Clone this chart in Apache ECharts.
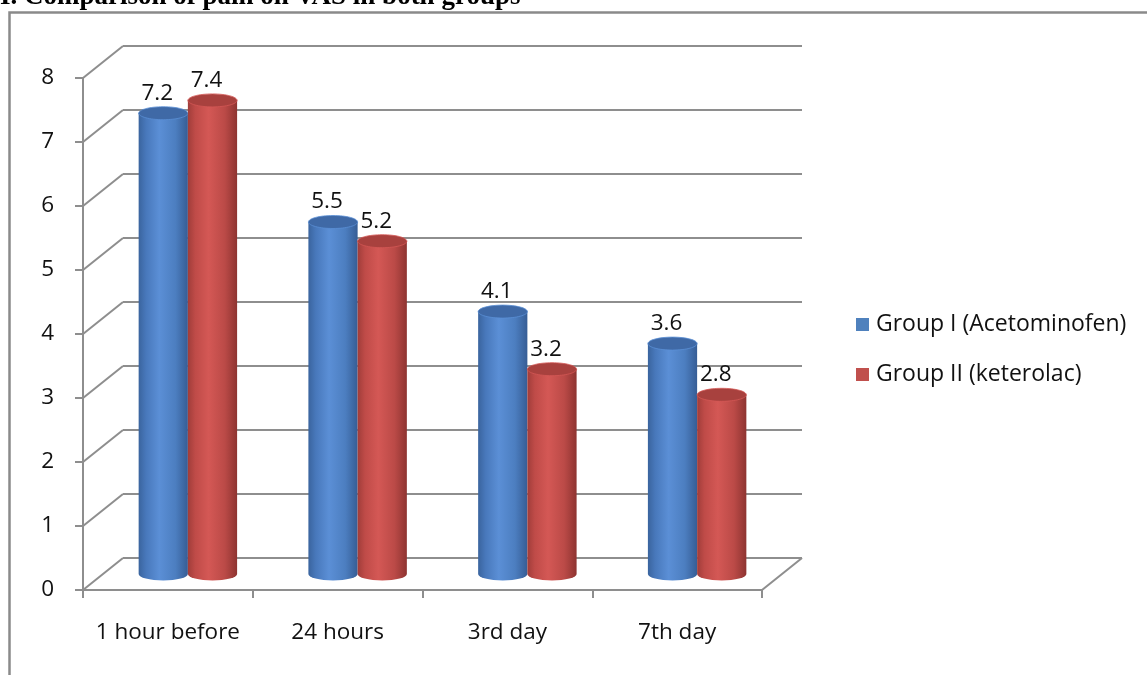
<!DOCTYPE html>
<html>
<head>
<meta charset="utf-8">
<script src="https://cdn.jsdelivr.net/npm/echarts@6/dist/echarts.min.js"></script>
<style>
  html, body { margin: 0; padding: 0; background: #fff; }
  #chart { width: 1147px; height: 675px; }
</style>
</head>
<body>
<div id="chart"></div>
<script>
// data
const categories = ['1 hour before', '24 hours', '3rd day', '7th day'];
const groupI = [7.2, 5.5, 4.1, 3.6];
const groupII = [7.4, 5.2, 3.2, 2.8];
const seriesNames = ['Group I (Acetominofen)', 'Group II (keterolac)'];
const yTicks = [0, 1, 2, 3, 4, 5, 6, 7, 8];
const titleText = 'I. Comparison of pain on VAS in both groups';

(function () {
    const chart = echarts.init(document.getElementById('chart'));

    const FONT = '"Open Sans", Lato, sans-serif';
    const FS = 22.5;
    const LINE = '#8e8e8e';
    const DX = 40, DY = 32; // depth of the 3d box (front -> back wall)

    const yMin = yTicks[0], yMax = yTicks[yTicks.length - 1], yStep = yTicks[1] - yTicks[0];

    // 3 grids: front (axes), back wall (gridlines), middle (bars)
    const grids = [
        { left: 83, right: 385, top: 78, bottom: 85 },
        { left: 83 + DX, right: 385 - DX, top: 78 - DY, bottom: 85 + DY },
        { left: 83 + DX / 2, right: 385 - DX / 2, top: 78 - DY / 2, bottom: 85 + DY / 2 }
    ].map(g => Object.assign({ outerBoundsMode: 'none' }, g));

    const xAxes = [
        {
            type: 'category', gridIndex: 0, data: categories,
            axisLine: { lineStyle: { color: LINE, width: 2 } },
            axisTick: { show: true, interval: 0, length: 8, lineStyle: { color: LINE, width: 2 } },
            axisLabel: { interval: 0, hideOverlap: false, fontFamily: FONT, fontSize: FS, color: '#111', margin: 31 }
        },
        { type: 'category', gridIndex: 1, data: categories, show: false },
        { type: 'category', gridIndex: 2, data: categories, show: false }
    ];

    const yAxes = [
        {
            type: 'value', gridIndex: 0, min: yMin, max: yMax, interval: yStep,
            axisLine: { show: true, lineStyle: { color: LINE, width: 2 } },
            axisTick: { show: true, length: 8, lineStyle: { color: LINE, width: 2 } },
            axisLabel: { fontFamily: FONT, fontSize: FS, color: '#111', margin: 29 },
            splitLine: { show: false }
        },
        {
            type: 'value', gridIndex: 1, min: yMin, max: yMax, interval: yStep,
            axisLine: { show: false }, axisTick: { show: false }, axisLabel: { show: false },
            splitLine: { show: true, lineStyle: { color: LINE, width: 2 } }
        },
        { type: 'value', gridIndex: 2, min: yMin, max: yMax, interval: yStep, show: false, splitLine: { show: false } }
    ];

    // side wall diagonals + right floor edge
    const walls = {
        type: 'custom', xAxisIndex: 1, yAxisIndex: 1, silent: true, z: 1,
        data: yTicks.map(v => [0, v]),
        renderItem(params, api) {
            const band = api.size([1, 0])[0];
            const p = api.coord([0, api.value(1)]);
            const left = p[0] - band / 2;
            const children = [{
                type: 'line',
                shape: { x1: left, y1: p[1], x2: left - DX, y2: p[1] + DY },
                style: { stroke: LINE, lineWidth: 2 }
            }];
            if (params.dataIndex === 0) {
                const q = api.coord([categories.length - 1, 0]);
                const right = q[0] + band / 2;
                children.push({
                    type: 'line',
                    shape: { x1: right, y1: q[1], x2: right - DX, y2: q[1] + DY },
                    style: { stroke: LINE, lineWidth: 2 }
                });
            }
            return { type: 'group', children };
        }
    };

    function cylinder(idx, values, stops, topColor, legendColor) {
        return {
            type: 'custom', name: seriesNames[idx], xAxisIndex: 2, yAxisIndex: 2, z: 3,
            itemStyle: { color: legendColor },
            data: values.map((v, i) => [i, v]),
            renderItem(params, api) {
                const cat = api.value(0), val = api.value(1);
                const band = api.size([1, 0])[0];
                const w = band * 0.29;
                const top = api.coord([cat, val]);
                const base = api.coord([cat, 0]);
                const x = top[0] + (idx === 0 ? -w : 0);
                const rx = w / 2, ry = 6.5;
                const grad = { type: 'linear', x: 0, y: 0, x2: 1, y2: 0, colorStops: stops };
                const body = 'M' + x + ',' + top[1] + ' L' + x + ',' + base[1] +
                    ' A' + rx + ',' + ry + ' 0 0 0 ' + (x + w) + ',' + base[1] +
                    ' L' + (x + w) + ',' + top[1] + ' Z';
                return {
                    type: 'group',
                    children: [
                        { type: 'path', shape: { pathData: body }, style: { fill: grad } },
                        { type: 'ellipse', shape: { cx: x + rx, cy: top[1], rx: rx, ry: ry },
                          style: { fill: topColor, stroke: stops[2].color, lineWidth: 0.8 } },
                        { type: 'text', x: x + rx - 6, y: top[1] - 20,
                          style: { text: String(val), font: FS + 'px ' + FONT, fill: '#111',
                                   align: 'center', verticalAlign: 'middle' } }
                    ]
                };
            }
        };
    }

    const blueStops = [
        { offset: 0, color: '#3a649e' }, { offset: 0.15, color: '#4878bb' },
        { offset: 0.42, color: '#5b8fd6' }, { offset: 0.75, color: '#4c7ec0' },
        { offset: 1, color: '#365d95' }
    ];
    const redStops = [
        { offset: 0, color: '#a03d3a' }, { offset: 0.15, color: '#bf4b48' },
        { offset: 0.42, color: '#d45855' }, { offset: 0.75, color: '#bb4a47' },
        { offset: 1, color: '#8e3431' }
    ];

    const option = {
        animation: false,
        backgroundColor: '#fff',
        grid: grids,
        xAxis: xAxes,
        yAxis: yAxes,
        legend: {
            orient: 'vertical', left: 851, top: 308,
            itemWidth: 13, itemHeight: 13, itemGap: 27, icon: 'rect',
            textStyle: { fontFamily: FONT, fontSize: 23, color: '#111', padding: [0, 0, 0, 2] },
            data: seriesNames
        },
        graphic: [
            { type: 'rect', left: 7, top: 10, z: -1, silent: true,
              shape: { width: 1200, height: 700 },
              style: { fill: null, stroke: '#8a8a8a', lineWidth: 2.5 } },
            { type: 'text', x: 0, y: 11, silent: true,
              style: { text: titleText, font: 'bold 27px "Liberation Serif", serif', fill: '#000',
                       verticalAlign: 'bottom' } }
        ],
        series: [
            walls,
            cylinder(0, groupI, blueStops, '#3f69a6', '#4f81bd'),
            cylinder(1, groupII, redStops, '#a8413e', '#c0504d')
        ]
    };

    chart.setOption(option);
})();
</script>
</body>
</html>
